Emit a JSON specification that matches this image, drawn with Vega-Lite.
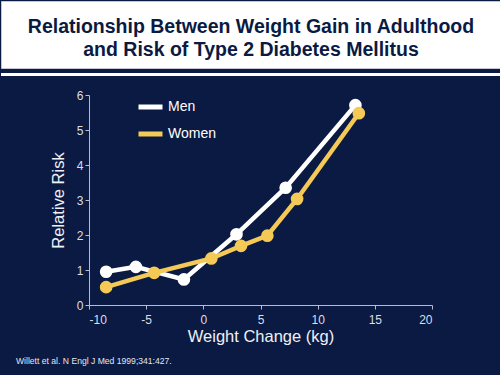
{
  "$schema": "https://vega.github.io/schema/vega-lite/v6.json",
  "background": "#0b1a42",
  "padding": 0,
  "spacing": 4,
  "bounds": "full",
  "config": {
    "font": "Liberation Sans",
    "view": {"stroke": null}
  },
  "datasets": {
    "risk": [
      {"sex": "Men", "change": -8.5, "rr": 0.95},
      {"sex": "Men", "change": -5.9, "rr": 1.09},
      {"sex": "Men", "change": -1.7, "rr": 0.73},
      {"sex": "Men", "change": 2.9, "rr": 2.02},
      {"sex": "Men", "change": 7.2, "rr": 3.35},
      {"sex": "Men", "change": 13.3, "rr": 5.71},
      {"sex": "Women", "change": -8.5, "rr": 0.51},
      {"sex": "Women", "change": -4.3, "rr": 0.92},
      {"sex": "Women", "change": 0.7, "rr": 1.33},
      {"sex": "Women", "change": 3.3, "rr": 1.69},
      {"sex": "Women", "change": 5.6, "rr": 1.98},
      {"sex": "Women", "change": 8.2, "rr": 3.03},
      {"sex": "Women", "change": 13.6, "rr": 5.48}
    ],
    "heading": [
      {"label": "Relationship Between Weight Gain in Adulthood\nand Risk of Type 2 Diabetes Mellitus"}
    ],
    "none": []
  },
  "vconcat": [
    {
      "width": 500,
      "height": 67,
      "view": {"fill": "#ffffff", "stroke": "#c4c6d2", "strokeWidth": 1},
      "data": {"name": "heading"},
      "mark": {
        "type": "text",
        "lineBreak": "\n",
        "fontSize": 19.5,
        "fontWeight": "bold",
        "color": "#0b1a42",
        "lineHeight": 23.5,
        "align": "center",
        "baseline": "middle",
        "dy": -8
      },
      "encoding": {"text": {"field": "label"}}
    },
    {
      "width": 500,
      "height": 3,
      "view": {"fill": "#ffffff", "stroke": null},
      "data": {"name": "none"},
      "mark": "rect",
      "encoding": {}
    },
    {
      "width": 500,
      "height": 5,
      "view": {"stroke": null},
      "data": {"name": "none"},
      "mark": "rect",
      "encoding": {}
    },
    {
      "spacing": 0,
      "bounds": "flush",
      "hconcat": [
        {
          "width": 88,
          "height": 288,
          "view": {"stroke": null},
          "data": {"name": "none"},
          "mark": "rect",
          "encoding": {}
        },
        {
          "width": 343,
          "height": 210,
          "view": {"stroke": null},
          "data": {"name": "risk"},
          "title": {
            "text": "Willett et al. N Engl J Med 1999;341:427.",
            "orient": "bottom",
            "anchor": "start",
            "frame": "group",
            "dx": -73,
            "offset": 12,
            "fontSize": 8.6,
            "fontWeight": "normal",
            "color": "#e4e6ee"
          },
          "encoding": {
            "x": {
              "field": "change",
              "type": "quantitative",
              "scale": {"domain": [-10, 20], "nice": false, "zero": false},
              "axis": {
                "title": "Weight Change (kg)",
                "values": [-10, -5, 0, 5, 10, 15, 20],
                "labelExpr": "'' + datum.value",
                "grid": false,
                "domainColor": "#b8bcd2",
                "tickColor": "#b8bcd2",
                "tickSize": 4,
                "labelColor": "#dcdee8",
                "labelFontSize": 12,
                "labelPadding": 5,
                "titleColor": "#eef0f6",
                "titleFontSize": 16.5,
                "titleFontWeight": "normal",
                "titlePadding": 3
              }
            },
            "y": {
              "field": "rr",
              "type": "quantitative",
              "scale": {"domain": [0, 6], "nice": false},
              "axis": {
                "title": "Relative Risk",
                "values": [0, 1, 2, 3, 4, 5, 6],
                "grid": false,
                "domainColor": "#b8bcd2",
                "tickColor": "#b8bcd2",
                "tickSize": 4,
                "labelColor": "#dcdee8",
                "labelFontSize": 12,
                "labelPadding": 2,
                "titleColor": "#eef0f6",
                "titleFontSize": 16.5,
                "titleFontWeight": "normal",
                "titlePadding": 10
              }
            },
            "color": {
              "field": "sex",
              "type": "nominal",
              "scale": {"domain": ["Men", "Women"], "range": ["#ffffff", "#f4c956"]},
              "legend": {
                "title": null,
                "orient": "none",
                "legendX": 135,
                "legendY": 91.5,
                "padding": 0,
                "symbolType": "stroke",
                "symbolSize": 576,
                "symbolStrokeWidth": 5,
                "labelColor": "#ffffff",
                "labelFontSize": 14,
                "labelOffset": 3,
                "rowPadding": 2
              }
            }
          },
          "layer": [
            {"mark": {"type": "line", "strokeWidth": 4.5}},
            {"mark": {"type": "point", "filled": true, "opacity": 1, "size": 160}}
          ]
        }
      ]
    }
  ]
}
